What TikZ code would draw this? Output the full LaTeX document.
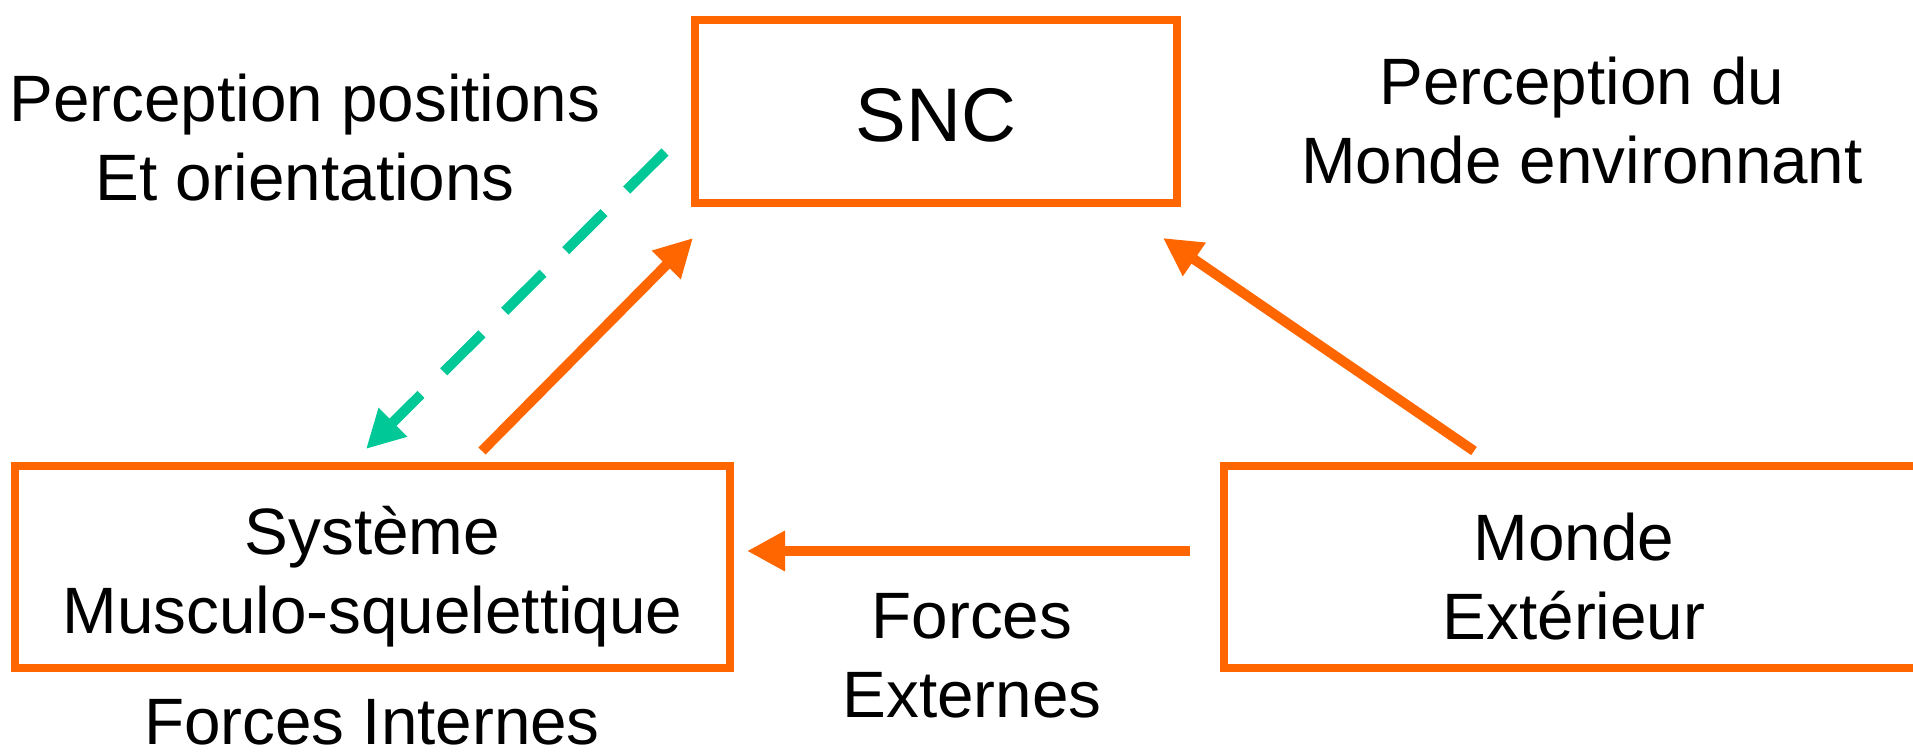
\documentclass[tikz,border=0pt]{standalone}
\usepackage{fontspec}
\setmainfont{Liberation Sans}
\usetikzlibrary{arrows.meta}
\definecolor{boxorange}{RGB}{255,102,0}
\definecolor{feedgreen}{RGB}{0,200,150}
\begin{document}
\begin{tikzpicture}[x=0.5pt,y=-0.5pt,
  lbl/.style={font=\fontsize{32.8}{39.5}\selectfont, align=center, inner sep=0pt},
  block/.style={draw=boxorange, line width=4pt, fill=white, inner sep=0pt},
  inside/.style={lbl, yshift=-5pt},
  flow/.style={draw=boxorange, line width=5pt, -{Triangle[length=19pt,width=19pt]}},
  feedback/.style={draw=feedgreen, line width=5pt, dash pattern=on 27pt off 16pt,
    -{Triangle[length=19pt,width=19pt]}}]
\useasboundingbox (0,0) rectangle (1913,754);

% blocks
\node[block, minimum width=241pt, minimum height=91.5pt,
      label={[lbl, font=\fontsize{38}{45}\selectfont, yshift=-1.5pt]center:SNC}] (snc) at (936,112) {};
\node[block, minimum width=357.5pt, minimum height=101pt,
      label={[inside]center:Système\\Musculo-squelettique}] (sys) at (372.5,567) {};
\node[block, minimum width=350pt, minimum height=101pt,
      label={[inside]center:Monde\\Extérieur}] (monde) at (1574,567) {};

% free labels
\node[lbl] (lpos) at (305,138) {Perception positions\\Et orientations};
\node[lbl] (lenv) at (1582,121) {Perception du\\Monde environnant};
\node[lbl] (lext) at (972,656) {Forces\\Externes};
\node[lbl] (lint) at (372,722) {Forces Internes};

% connector end points
\coordinate (g1) at (665,152);
\coordinate (g2) at (366,449);
\coordinate (a1) at (482,451);
\coordinate (a2) at (693,238);
\coordinate (b1) at (1474,451);
\coordinate (b2) at (1163,238);
\coordinate (c1) at (1190,551);
\coordinate (c2) at (747,551);

% connectors
\draw[feedback] (g1) -- (g2);
\draw[flow] (a1) -- (a2);
\draw[flow] (b1) -- (b2);
\draw[flow] (c1) -- (c2);
\end{tikzpicture}
\end{document}
